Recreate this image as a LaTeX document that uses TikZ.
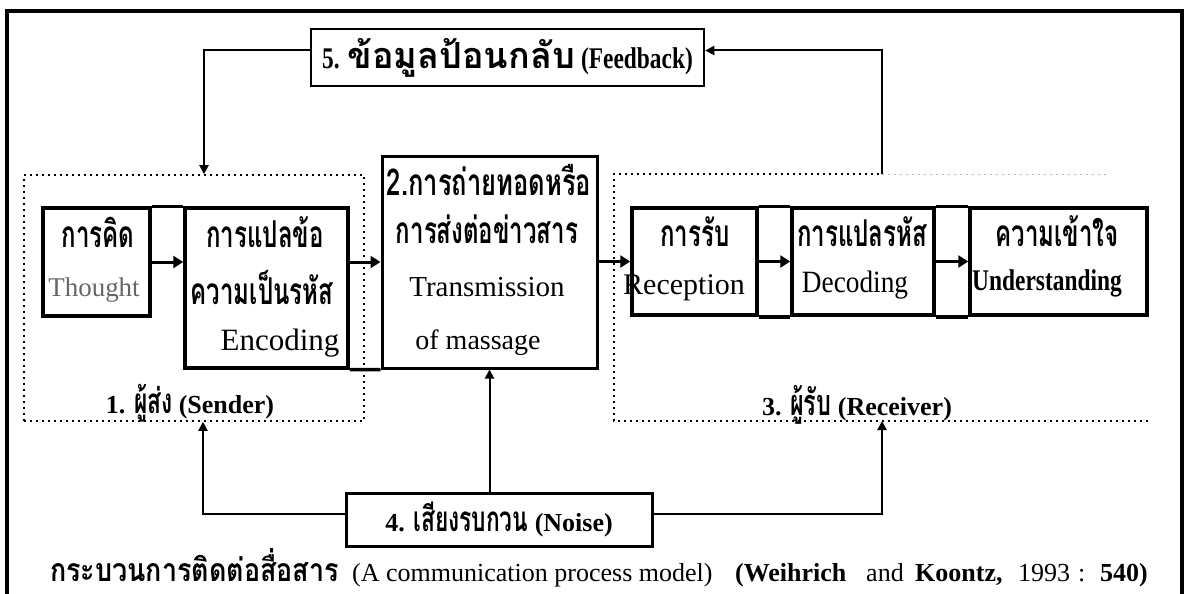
\documentclass[tikz,border=0pt]{standalone}
\usepackage{fontspec}
\setmainfont{Liberation Serif}
\newfontfamily\thaiN[Script=Thai,FakeStretch=0.65]{Loma}
\newfontfamily\thaiT[Script=Thai,FakeStretch=0.69]{Loma}
\newfontfamily\thaiW[Script=Thai,FakeStretch=1.0]{Loma}
\newfontfamily\thaiC[Script=Thai,FakeStretch=0.84]{Loma}
\newfontfamily\condser[FakeStretch=0.78]{Liberation Serif}
\newfontfamily\narrowser[FakeStretch=0.88]{Liberation Serif}
\usetikzlibrary{arrows.meta}
\newcommand{\thb}{\thaiN\bfseries\fontsize{37}{39}\selectfont}
\begin{document}
\begin{tikzpicture}[x=1pt,y=-1pt,
  box/.style={draw, line width=3.5pt, inner sep=0},
  thinbox/.style={draw, line width=2.5pt, inner sep=0},
  dotline/.style={line width=1.6pt, dash pattern=on 1.6pt off 4.4pt},
  conn/.style={line width=2pt, -{Triangle[length=9pt,width=9pt]}},
  rowconn/.style={line width=3pt, -{Triangle[length=10pt,width=12pt]}},
  th/.style={inner sep=0, font=\thb},
  en/.style={inner sep=0, font=\fontsize{29}{31}\selectfont},
  lab/.style={inner sep=0, font=\bfseries\fontsize{26}{28}\selectfont},
  captxt/.style={inner sep=0, anchor=base west, font=\fontsize{26}{28}\selectfont}]
\useasboundingbox (0,0) rectangle (1189,594);
% outer frame
\draw[line width=4.5pt] (7,594) -- (7,11) -- (1182,11) -- (1182,594);
% boxes
\node[thinbox, minimum width=393pt, minimum height=57pt] (feedback) at (507.5,57.5) {};
\node[box, minimum width=107pt, minimum height=108pt] (thought) at (96.5,262) {};
\node[box, minimum width=163pt, minimum height=160pt] (encoding) at (266.5,288) {};
\node[box, line width=3pt, minimum width=215pt, minimum height=212pt] (transmission) at (489.5,262) {};
\node[box, minimum width=125pt, minimum height=107pt] (reception) at (694.5,261.5) {};
\node[box, minimum width=142pt, minimum height=107pt] (decoding) at (863,261.5) {};
\node[box, minimum width=177pt, minimum height=107pt] (understanding) at (1058.5,261.5) {};
\node[box, line width=3pt, minimum width=306pt, minimum height=53pt] (noise) at (499,519.5) {};
% joining lines
\draw[line width=3.5pt] (thought.north east) -- (encoding.north west);
\draw[line width=3.5pt] (encoding.south east) -- (transmission.south west);
\draw[line width=3.5pt] (reception.north east) -- (decoding.north west);
\draw[line width=3.5pt] (reception.south east) -- (decoding.south west);
\draw[line width=3.5pt] (decoding.north east) -- (understanding.north west);
\draw[line width=3.5pt] (decoding.south east) -- (understanding.south west);
% dotted groups
\node[dotline, draw, inner sep=0, minimum width=340pt, minimum height=246pt] (sender) at (194,298) {};
\coordinate (rtop) at (882,174);
\coordinate (rbot) at (882,421);
\draw[dotline] (1148,421) -- (614,421) -- (614,174) -- (rtop);
\draw[dotline, black!30, line width=1pt] (rtop) -- (1107,174);
% texts
\node[inner sep=0, font=\condser\bfseries\fontsize{30}{32}\selectfont] (tfb) at (feedback.center) {5. {\thaiW\bfseries\fontsize{36}{38}\selectfont ข้อมูลป้อนกลับ} (Feedback)};
\node[inner sep=0, font=\bfseries\fontsize{26}{28}\selectfont] (tno) at (noise.center) {4. {\thaiN\bfseries\fontsize{35}{37}\selectfont เสียงรบกวน} (Noise)};
\node[th] (t1) at (98,232) {การคิด};
\node[en, text=black!60, font=\fontsize{27}{29}\selectfont] (t2) at (94,290) {Thought};
\node[th] (t3) at (265,232) {การแปลข้อ};
\node[th] (t4) at (262,287) {ความเป็นรหัส};
\node[en, font=\fontsize{31}{33}\selectfont] (t5) at (280,343) {Encoding};
\node[th, font=\thaiT\bfseries\fontsize{37}{39}\selectfont] (t6) at (489,180) {2.การถ่ายทอดหรือ};
\node[th] (t7) at (487,229) {การส่งต่อข่าวสาร};
\node[en] (t8) at (487,287) {Transmission};
\node[en, font=\fontsize{28}{30}\selectfont] (t9) at (478,343) {of massage};
\node[th] (t10) at (695,232) {การรับ};
\node[en, font=\fontsize{30}{32}\selectfont] (t11) at (684,288) {Reception};
\node[th] (t12) at (862,232) {การแปลรหัส};
\node[en, font=\narrowser\fontsize{31}{33}\selectfont] (t13) at (855,285) {Decoding};
\node[th] (t14) at (1057,231) {ความเข้าใจ};
\node[en, font=\condser\bfseries\fontsize{30}{32}\selectfont] (t15) at (1047,283) {Understanding};
\node[lab] (t16) at (190,403) {1. {\thaiN\fontsize{35}{37}\selectfont ผู้ส่ง} (Sender)};
\node[lab] (t17) at (857,405) {3. {\thaiN\fontsize{36}{38}\selectfont ผู้รับ} (Receiver)};
% caption
\node[captxt, font=\thaiC\bfseries\fontsize{32}{34}\selectfont] (c1) at (50,581) {กระบวนการติดต่อสื่อสาร};
\node[captxt] (c2) at (352,581) {(A communication process model)};
\node[captxt, font=\bfseries\fontsize{26}{28}\selectfont] (c3) at (735,581) {(Weihrich};
\node[captxt] (c4) at (866,581) {and};
\node[captxt, font=\bfseries\fontsize{26}{28}\selectfont] (c5) at (915,581) {Koontz,};
\node[captxt] (c6) at (1018,581) {1993};
\node[captxt] (c7) at (1078,581) {:};
\node[captxt, font=\bfseries\fontsize{26}{28}\selectfont] (c8) at (1100,581) {540)};
% connectors
\draw[rowconn] (thought.east) -- (thought.east -| encoding.west);
\draw[rowconn] (encoding.east |- thought.east) -- (transmission.west |- thought.east);
\draw[rowconn] (transmission.east |- reception.west) -- (reception.west);
\draw[rowconn] (reception.east) -- (decoding.west);
\draw[rowconn] (decoding.east) -- (understanding.west);
\draw[conn] (rtop) |- ([yshift=7pt]feedback.east);
\draw[conn] ([yshift=7pt]feedback.west) -| ([xshift=10pt]sender.north);
\draw[conn] ([yshift=6pt]noise.west) -| ([xshift=9pt]sender.south);
\draw[conn] (transmission.south |- noise.north) -- (transmission.south);
\draw[conn] ([yshift=6pt]noise.east) -| (rbot);
\end{tikzpicture}
\end{document}
